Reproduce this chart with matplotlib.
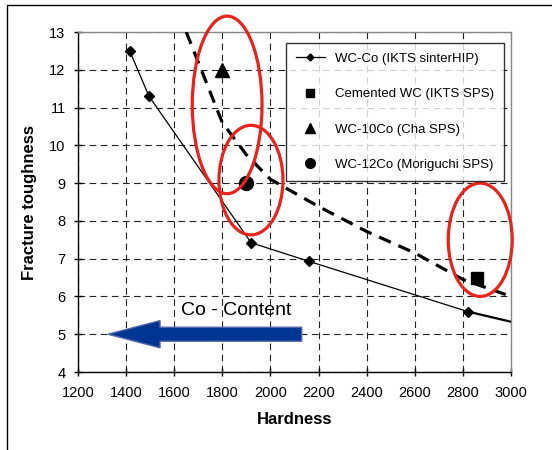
import matplotlib
matplotlib.use("Agg")
import matplotlib.pyplot as plt
from matplotlib.patches import Ellipse, FancyArrow, Rectangle

plt.rcParams['font.family'] = ['Liberation Sans', 'DejaVu Sans']

# WC-Co (IKTS sinterHIP) measured points
wc_co_x = [1415, 1495, 1920, 2160, 2820]
wc_co_y = [12.5, 11.3, 7.42, 6.93, 5.6]
# continuation of that curve to the axis edge
wc_co_ext_x = [2820, 3000]
wc_co_ext_y = [5.6, 5.33]

# dashed trend line
trend_x = [1650, 1800, 1900, 2000, 2200, 2400, 2600, 2800, 3000]
trend_y = [13.0, 10.6, 9.75, 9.1, 8.38, 7.72, 7.15, 6.45, 6.0]

# single points
sps_x, sps_y = [2860], [6.5]
cha_x, cha_y = [1800], [12.0]
mori_x, mori_y = [1900], [9.0]

# red highlight ellipses: centre x, centre y, width, height
ell_cx = [1820, 1919, 2872]
ell_cy = [11.07, 9.08, 7.5]
ell_w = [290, 266, 266]
ell_h = [4.7, 2.9, 3.0]

xticks = list(range(1200, 3001, 200))
yticks = list(range(4, 14))


def main():
    fig = plt.figure(figsize=(5.52, 4.5), dpi=100)
    ax = fig.add_axes([78 / 552, 78 / 450, 433 / 552, 340 / 450])

    # outer frame (left and top only visible)
    fig.patches.append(Rectangle((7 / 552, -0.1), 1.2, 1 - 5 / 450 + 0.1,
                                 transform=fig.transFigure, fill=False,
                                 edgecolor='black', lw=1.0))

    ax.plot(wc_co_x, wc_co_y, color='black', lw=0.9, marker='D', ms=5,
            label='WC-Co (IKTS sinterHIP)', zorder=4)
    ax.plot(wc_co_ext_x, wc_co_ext_y, color='black', lw=1.6, zorder=4)
    ax.plot(trend_x, trend_y, color='black', lw=2.3, dashes=(4, 2.6), zorder=3)
    ax.plot(sps_x, sps_y, ls='none', marker='s', ms=9, color='black',
            label='Cemented WC (IKTS SPS)', zorder=5)
    ax.plot(cha_x, cha_y, ls='none', marker='^', ms=10, color='black',
            label='WC-10Co (Cha SPS)', zorder=5)
    ax.plot(mori_x, mori_y, ls='none', marker='o', ms=10, color='black',
            label='WC-12Co (Moriguchi SPS)', zorder=5)

    for cx, cy, w, h in zip(ell_cx, ell_cy, ell_w, ell_h):
        ax.add_patch(Ellipse((cx, cy), w, h, fill=False, edgecolor='#e8231d',
                             lw=2.3, clip_on=False, zorder=6))

    ax.add_patch(FancyArrow(2130, 5, -805, 0, width=0.37, head_width=0.72,
                            head_length=216, length_includes_head=True,
                            facecolor='#003591', edgecolor='#5566aa', lw=1,
                            zorder=5))
    ax.text(1857, 5.62, 'Co - Content', fontsize=14, ha='center', va='center',
            zorder=6)

    ax.set_xlim(1200, 3000)
    ax.set_ylim(4, 13)
    ax.set_xticks(xticks)
    ax.set_yticks(yticks)
    ax.tick_params(direction='inout', length=6, width=1, labelsize=10.5)
    ax.tick_params(axis='x', pad=7)
    ax.tick_params(axis='y', pad=6)
    ax.grid(True, color='#222222', lw=0.8, ls=(0, (6, 4)))
    ax.set_axisbelow(True)
    for side in ['left', 'bottom']:
        ax.spines[side].set_color('black')
        ax.spines[side].set_linewidth(1.0)
    for side in ['top', 'right']:
        ax.spines[side].set_color('#888888')
        ax.spines[side].set_linewidth(1.0)

    ax.set_xlabel('Hardness', fontsize=12, fontweight='bold', labelpad=9)
    ax.set_ylabel('Fracture toughness', fontsize=12, fontweight='bold',
                  labelpad=9)

    leg = ax.legend(loc='upper left', bbox_to_anchor=(0.48, 0.968),
                    fontsize=9.5, frameon=True, fancybox=False, shadow=False,
                    labelspacing=1.75, handlelength=2.2, borderpad=0.75,
                    markerscale=0.7, borderaxespad=0)
    leg.get_frame().set_edgecolor('black')
    leg.get_frame().set_linewidth(1.0)
    leg.set_zorder(7)

    fig.savefig('out.png', dpi=100)


if __name__ == '__main__':
    main()
